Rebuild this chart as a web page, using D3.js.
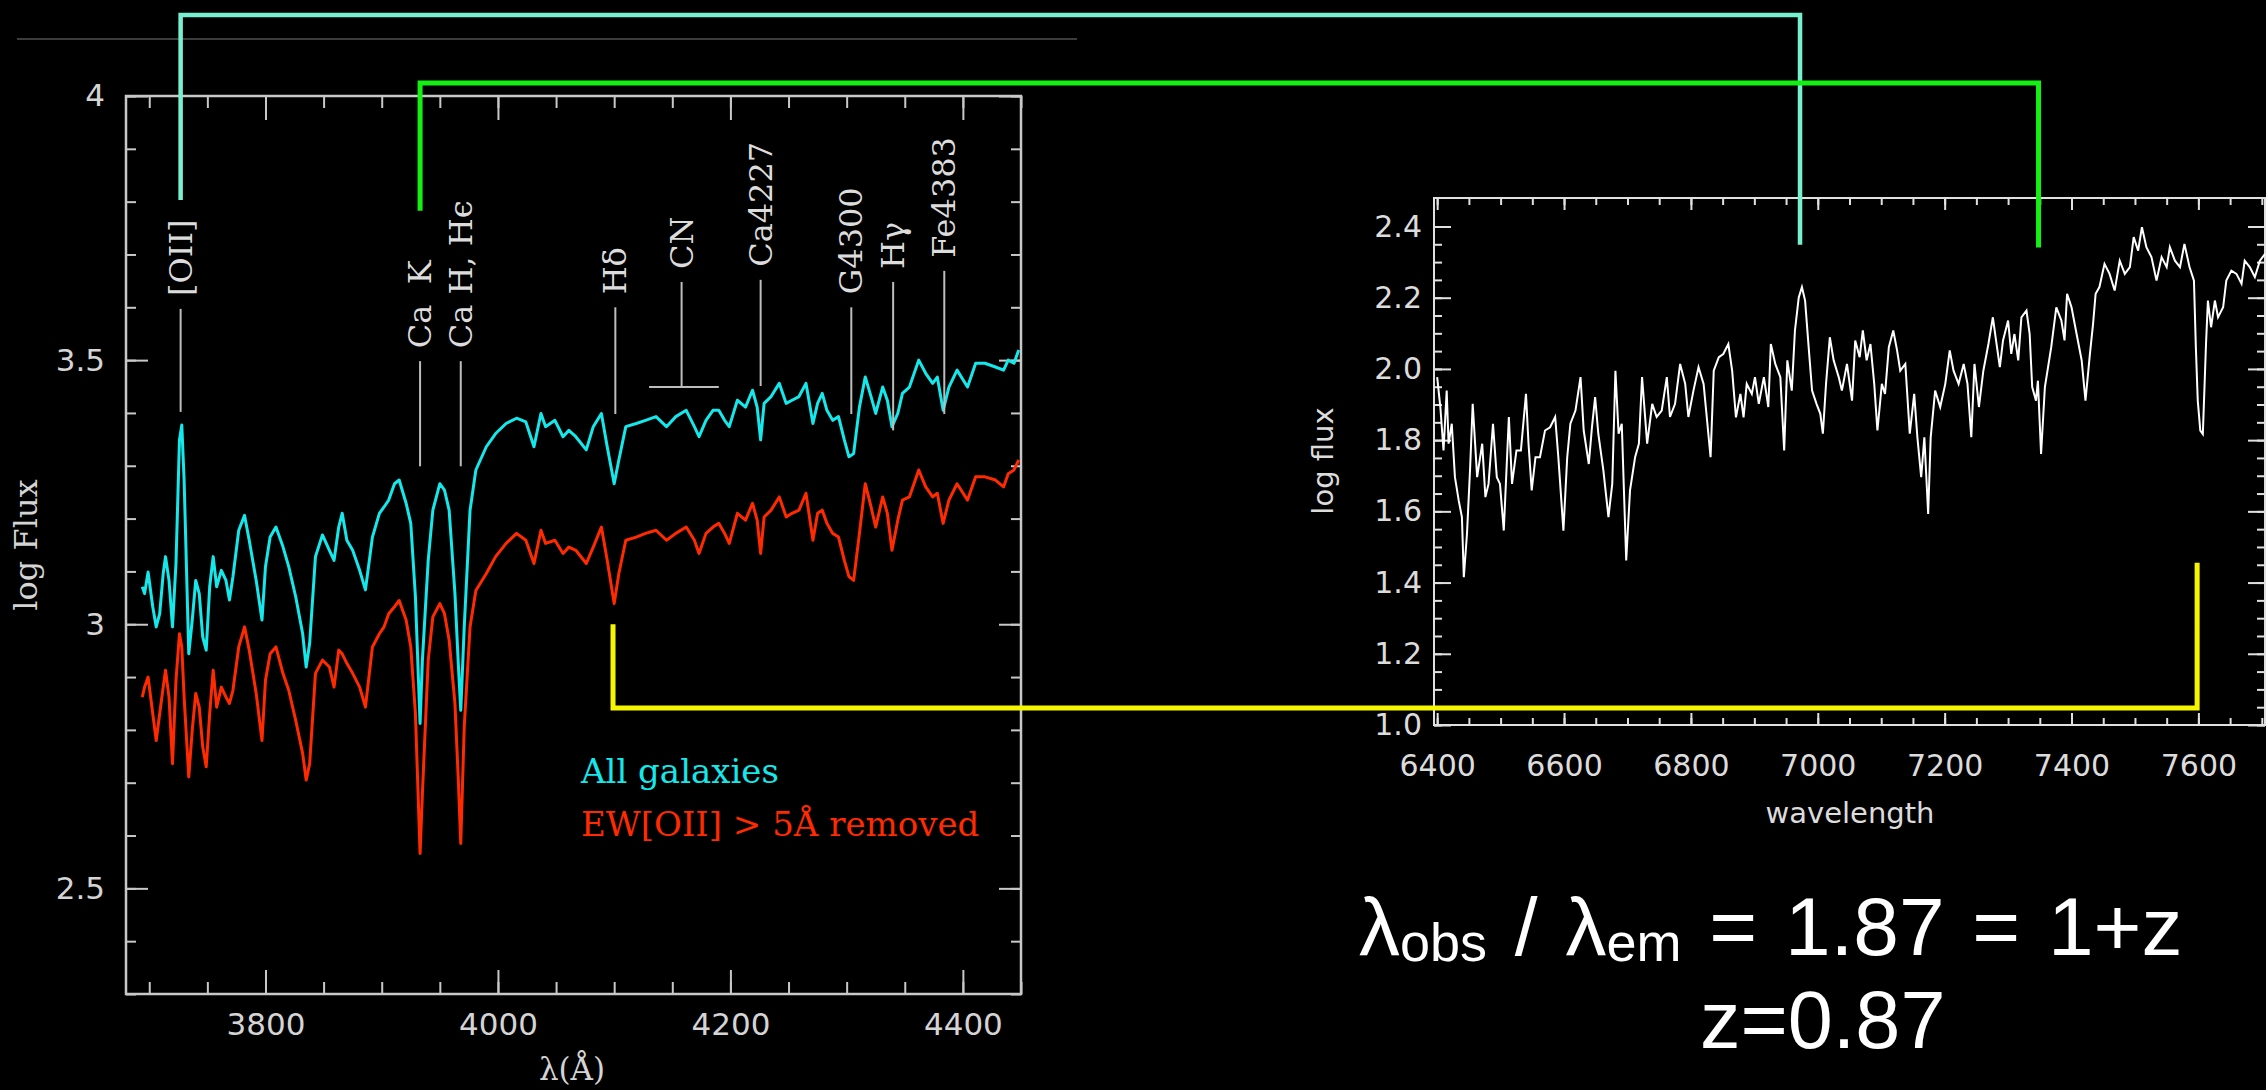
<!DOCTYPE html>
<html lang="en">
<head>
<meta charset="UTF-8">
<title>Redshift of a galaxy spectrum</title>
<script src="https://d3js.org/d3.v7.min.js"></script>
<style>
    body { margin: 0; background: #000; }
    svg { display: block; }
</style>
</head>
<body>
<svg width="2266" height="1090"></svg>
<script>
// ---- rest-frame composite spectra (left panel) ----
const restWave = [3694,3696,3699,3703,3706,3709,3712,3714,3717,3720,3723,3726,3728,3730,3734,3737,3740,3743,3746,3749,
    3752,3755,3758,3762,3766,3769,3772,3777,3782,3786,3792,3797,3800,3804,3809,3815,3820,3826,3832,3835,
    3838,3843,3849,3855,3859,3863,3866,3870,3875,3881,3886,3892,3898,3902,3906,3911,3915,3921,3925,3929,
    3933,3935,3940,3944,3950,3954,3958,3963,3966,3968,3971,3976,3981,3990,3998,4007,4016,4024,4031,4037,
    4041,4049,4056,4061,4067,4076,4082,4089,4094,4100,4104,4110,4119,4127,4136,4145,4153,4162,
    4169,4173,4179,4185,4190,4195,4199,4206,4213,4219,4223,4226,4229,4235,4242,4248,4253,4259,4265,4271,
    4275,4279,4283,4288,4293,4298,4302,4306,4311,4316,4321,4325,4331,4335,4339,4344,4348,4354,4362,4368,
    4374,4378,4383,4388,4395,4404,4411,4419,4428,4435,4439,4444,4448];
const allGalaxies = [3.071,3.058,3.099,3.033,2.995,3.020,3.096,3.128,3.083,2.995,3.115,3.349,3.377,3.273,2.944,3.008,3.083,3.058,2.976,2.951,
    3.071,3.128,3.071,3.102,3.083,3.046,3.090,3.178,3.206,3.159,3.083,3.008,3.109,3.165,3.184,3.147,3.109,3.052,2.982,2.919,
    2.964,3.128,3.169,3.140,3.121,3.184,3.210,3.159,3.140,3.102,3.065,3.165,3.210,3.222,3.235,3.266,3.273,3.229,3.191,3.052,
    2.812,2.932,3.121,3.216,3.266,3.254,3.216,3.058,2.920,2.837,2.995,3.216,3.292,3.336,3.361,3.380,3.390,3.383,3.336,3.399,
    3.374,3.386,3.355,3.367,3.355,3.330,3.374,3.399,3.336,3.266,3.311,3.374,3.380,3.386,3.393,3.374,3.393,3.405,
    3.374,3.355,3.386,3.405,3.405,3.386,3.374,3.424,3.411,3.443,3.411,3.349,3.418,3.431,3.456,3.418,3.424,3.431,3.456,3.380,
    3.418,3.437,3.405,3.386,3.393,3.349,3.317,3.323,3.411,3.468,3.431,3.399,3.449,3.424,3.374,3.399,3.437,3.449,3.500,3.475,
    3.456,3.468,3.405,3.449,3.481,3.449,3.494,3.494,3.487,3.481,3.500,3.494,3.519];
const oiiRemoved = [2.862,2.881,2.900,2.831,2.780,2.831,2.881,2.913,2.862,2.736,2.894,2.982,2.957,2.862,2.711,2.800,2.869,2.843,2.768,2.730,
    2.831,2.913,2.843,2.881,2.862,2.850,2.875,2.957,2.995,2.951,2.869,2.780,2.894,2.944,2.957,2.907,2.875,2.818,2.755,2.705,
    2.736,2.907,2.932,2.919,2.881,2.951,2.944,2.926,2.907,2.881,2.843,2.957,2.982,2.995,3.020,3.033,3.045,3.008,2.957,2.831,
    2.566,2.679,2.932,3.014,3.039,3.020,2.970,2.850,2.700,2.585,2.806,2.995,3.064,3.096,3.128,3.153,3.172,3.159,3.115,3.178,
    3.153,3.159,3.134,3.146,3.140,3.115,3.146,3.184,3.121,3.039,3.096,3.159,3.165,3.172,3.178,3.159,3.172,3.184,
    3.159,3.134,3.172,3.184,3.191,3.172,3.153,3.210,3.197,3.229,3.197,3.134,3.203,3.216,3.241,3.203,3.210,3.216,3.248,3.159,
    3.210,3.216,3.191,3.172,3.165,3.121,3.090,3.083,3.172,3.266,3.222,3.184,3.241,3.210,3.140,3.197,3.235,3.241,3.292,3.260,
    3.241,3.248,3.191,3.235,3.266,3.235,3.279,3.279,3.273,3.260,3.285,3.292,3.311];

// ---- observed spectrum (right panel) ----
const obsWave = [6400,6405,6410,6415,6418,6423,6428,6434,6439,6442,6447,6452,6456,6463,6471,6476,6481,6488,6494,6499,
    6505,6513,6518,6525,6532,6540,6544,6549,6555,6562,6570,6578,6586,6591,6599,6605,6610,6618,6626,6631,
    6639,6644,6649,6654,6662,6670,6676,6681,6686,6691,6698,6704,6712,6718,6723,6731,6739,6746,6754,6762,
    6767,6775,6783,6791,6796,6804,6812,6820,6831,6836,6844,
    6851,6859,6865,6871,6878,6883,6888,6896,6901,6907,6915,6922,6926,6933,6941,6947,6952,6959,6964,6970,
    6975,6980,6986,6991,6998,7004,7008,7013,7019,7025,7033,7038,7046,7054,7059,7066,7071,7077,7083,7089,
    7094,7101,7106,7112,7119,7125,7130,7138,7145,7152,7157,7163,7168,7174,7178,7185,7193,7201,7208,7214,
    7222,7230,7236,7242,7247,7254,7261,7269,
    7276,7281,7287,7292,7300,7305,7310,7316,7321,7329,7334,7338,7344,7347,7352,7358,7363,7368,7376,7384,
    7389,7393,7400,7408,7416,7422,7429,7434,7438,7444,7452,7460,7468,7476,7484,7492,7498,7505,7511,7518,
    7526,7534,7542,7550,7555,7563,7571,7578,7586,7593,7596,7599,7603,7607,7612,7615,7620,7626,7631,7639,
    7644,7652,7660,7668,7673,7681,7689,7697,7705];
const obsFlux = [1.977,1.893,1.771,1.939,1.790,1.846,1.696,1.630,1.584,1.415,1.537,1.724,1.902,1.696,1.790,1.640,1.677,1.846,1.696,1.677,
    1.546,1.865,1.677,1.771,1.771,1.930,1.790,1.659,1.752,1.752,1.827,1.836,1.865,1.752,1.546,1.752,1.846,1.883,1.977,1.827,
    1.733,1.836,1.921,1.818,1.715,1.584,1.677,1.995,1.818,1.846,1.462,1.659,1.752,1.790,1.977,1.790,1.902,1.865,1.883,1.977,
    1.865,1.902,2.014,1.958,1.865,1.939,2.005,1.958,1.752,1.995,2.033,
    2.042,2.070,1.995,1.864,1.930,1.864,1.958,1.930,1.977,1.902,1.977,1.893,2.070,2.014,1.977,1.771,2.024,1.939,2.108,2.201,
    2.230,2.192,2.052,1.939,1.902,1.874,1.818,1.958,2.089,2.024,1.977,1.939,2.014,1.911,2.080,2.033,2.108,2.024,2.070,1.958,
    1.827,1.958,1.930,2.061,2.108,2.052,1.995,2.014,1.818,1.930,1.808,1.696,1.808,1.593,1.808,1.939,1.893,1.958,2.052,1.995,
    1.958,2.014,1.958,1.808,2.014,1.893,1.995,2.070,
    2.145,2.080,2.005,2.080,2.136,2.042,2.098,2.024,2.145,2.164,2.098,1.949,1.911,1.967,1.761,1.949,2.005,2.061,2.173,2.136,
    2.080,2.211,2.173,2.098,2.024,1.911,2.042,2.127,2.211,2.230,2.295,2.267,2.220,2.304,2.267,2.286,2.370,2.332,2.398,2.342,
    2.314,2.248,2.314,2.286,2.342,2.304,2.286,2.351,2.286,2.248,2.061,1.911,1.827,1.817,2.070,2.192,2.117,2.192,2.145,2.173,
    2.248,2.276,2.267,2.239,2.304,2.286,2.258,2.304,2.323];

// ---- spectral feature marks (rest frame) ----
const featureNames = ["[OII]", "Ca\u00a0\u00a0K", "Ca H, H\u03f5", "H\u03b4", "CN", "Ca4227", "G4300", "H\u03b3", "Fe4383"];
const featureWave  = [3727, 3933, 3968, 4101, 4158, 4226, 4304, 4340, 4384];
const featureTop   = [3.597, 3.498, 3.498, 3.600, 3.648, 3.652, 3.600, 3.648, 3.669];
const featureBot   = [3.402, 3.299, 3.299, 3.398, 3.449, 3.451, 3.398, 3.367, 3.398];
const cnBand = [4130, 4190];

// ---- connectors: rest wavelength -> observed wavelength ----
const linkColors  = ["#78f0d0", "#14f014", "#f5f500"];
const linkRest    = [3727, 3933, 4099];
const linkObs     = [6972, 7348, 7598];
const linkRestEnd = [3.803, 3.783, 3.0];
const linkObsEnd  = [2.349, 2.341, 1.456];

// ---- tick labels ----
const leftXTicks = [3800, 4000, 4200, 4400];
const leftYTicks = [2.5, 3, 3.5, 4];
const rightXTicks = [6400, 6600, 6800, 7000, 7200, 7400, 7600];
const rightYTicks = [1.0, 1.2, 1.4, 1.6, 1.8, 2.0, 2.2, 2.4];

const svg = d3.select("svg");
svg.append("rect").attr("width", 2266).attr("height", 1090).attr("fill", "#000");

// thin grey rule at the top
svg.append("line").attr("x1", 17).attr("x2", 1077).attr("y1", 39).attr("y2", 39)
    .attr("stroke", "#3c3c3c").attr("stroke-width", 2);

// inward ticks on all four sides of a frame
function boxTicks(g, x, y, xVals, yVals, xLen, yLen, color) {
    const [x0, x1] = x.range();
    const [y0, y1] = y.range();
    const sets = [
        [d3.axisBottom(x).tickValues(xVals).tickSize(-xLen), `translate(0,${y0})`],
        [d3.axisTop(x).tickValues(xVals).tickSize(-xLen), `translate(0,${y1})`],
        [d3.axisLeft(y).tickValues(yVals).tickSize(-yLen), `translate(${x0},0)`],
        [d3.axisRight(y).tickValues(yVals).tickSize(-yLen), `translate(${x1},0)`]
    ];
    sets.forEach(([ax, tr]) => {
        const a = g.append("g").attr("transform", tr).call(ax.tickFormat(""));
        a.select(".domain").remove();
        a.selectAll("line").attr("stroke", color).attr("stroke-width", 2);
    });
}

function tickLabels(g, axis, tr, font, size, color) {
    const a = g.append("g").attr("transform", tr).call(axis);
    a.select(".domain").remove();
    a.selectAll("line").remove();
    a.selectAll("text").attr("font-family", font).attr("font-size", size).attr("fill", color);
    return a;
}

// ================= left panel =================
const xL = d3.scaleLinear().domain([3680, 4450]).range([126, 1021]);
const yL = d3.scaleLinear().domain([2.3, 4.0]).range([994, 96]);
const left = svg.append("g");
const frameCol = "#c8c8c8";

boxTicks(left, xL, yL, d3.range(3700, 4451, 50), d3.range(23, 41).map(d => d / 10), 12, 10, frameCol);
boxTicks(left, xL, yL, leftXTicks, leftYTicks, 24, 22, frameCol);
left.append("rect").attr("x", 126).attr("y", 96).attr("width", 895).attr("height", 898)
    .attr("fill", "none").attr("stroke", frameCol).attr("stroke-width", 2.5);

tickLabels(left, d3.axisBottom(xL).tickValues(leftXTicks).tickSize(0).tickPadding(19).tickFormat(d3.format("d")),
    "translate(0,994)", "DejaVu Sans", 31, "#d4d4d4");
tickLabels(left, d3.axisLeft(yL).tickValues(leftYTicks).tickSize(0).tickPadding(21).tickFormat(d => String(d)),
    "translate(126,0)", "DejaVu Sans", 31, "#d4d4d4");

left.append("text").attr("transform", "translate(37,545) rotate(-90)").attr("text-anchor", "middle")
    .attr("font-family", "DejaVu Serif").attr("font-size", 32).attr("fill", "#d4d4d4").text("log Flux");
left.append("text").attr("x", 572).attr("y", 1080).attr("text-anchor", "middle")
    .attr("font-family", "DejaVu Serif").attr("font-size", 31).attr("fill", "#d4d4d4").text("\u03bb(\u00c5)");

const lineL = d3.line().x(d => xL(d[0])).y(d => yL(d[1]));
left.append("path").datum(d3.zip(restWave, allGalaxies)).attr("d", lineL)
    .attr("fill", "none").attr("stroke", "#14e8ea").attr("stroke-width", 3).attr("stroke-linejoin", "round");
left.append("path").datum(d3.zip(restWave, oiiRemoved)).attr("d", lineL)
    .attr("fill", "none").attr("stroke", "#ff2a00").attr("stroke-width", 3).attr("stroke-linejoin", "round");

// feature marks
featureNames.forEach((name, i) => {
    const fx = xL(featureWave[i]);
    left.append("line").attr("x1", fx).attr("x2", fx)
        .attr("y1", yL(featureTop[i])).attr("y2", yL(featureBot[i]))
        .attr("stroke", "#bdbdbd").attr("stroke-width", 2);
    left.append("text")
        .attr("transform", `translate(${fx + 11},${yL(featureTop[i]) - 13}) rotate(-90)`)
        .attr("font-family", "DejaVu Serif").attr("font-size", 32).attr("fill", "#dcdcdc")
        .text(name);
});
left.append("line").attr("x1", xL(cnBand[0])).attr("x2", xL(cnBand[1]))
    .attr("y1", yL(featureBot[4])).attr("y2", yL(featureBot[4]))
    .attr("stroke", "#bdbdbd").attr("stroke-width", 2);

// legend
left.append("text").attr("x", 581).attr("y", 783).attr("font-family", "DejaVu Serif").attr("font-size", 34)
    .attr("fill", "#14e8ea").text("All galaxies");
left.append("text").attr("x", 581).attr("y", 836).attr("font-family", "DejaVu Serif").attr("font-size", 34)
    .attr("fill", "#ff2a00").text("EW[OII] > 5\u00c5 removed");

// ================= right panel =================
const xR = d3.scaleLinear().domain([6395, 7705]).range([1434, 2265]);
const yR = d3.scaleLinear().domain([1.0, 2.48]).range([725, 198]);
const right = svg.append("g");
const frameR = "#e0e0e0";

boxTicks(right, xR, yR, d3.range(6400, 7701, 50), d3.range(20, 49).map(d => d / 20), 7, 8, frameR);
boxTicks(right, xR, yR, rightXTicks, rightYTicks, 12, 17, frameR);
right.append("rect").attr("x", 1434).attr("y", 198).attr("width", 831).attr("height", 527)
    .attr("fill", "none").attr("stroke", frameR).attr("stroke-width", 2);

tickLabels(right, d3.axisBottom(xR).tickValues(rightXTicks).tickSize(0).tickPadding(30).tickFormat(d3.format("d")),
    "translate(0,725)", "DejaVu Sans", 30, "#dcdcdc");
tickLabels(right, d3.axisLeft(yR).tickValues(rightYTicks).tickSize(0).tickPadding(12).tickFormat(d3.format(".1f")),
    "translate(1434,0)", "DejaVu Sans", 30, "#dcdcdc");

right.append("text").attr("transform", "translate(1333,461) rotate(-90)").attr("text-anchor", "middle")
    .attr("font-family", "DejaVu Sans").attr("font-size", 29).attr("fill", "#dcdcdc").text("log flux");
right.append("text").attr("x", 1850).attr("y", 823).attr("text-anchor", "middle")
    .attr("font-family", "DejaVu Sans").attr("font-size", 29).attr("fill", "#dcdcdc").text("wavelength");

right.append("path").datum(d3.zip(obsWave, obsFlux))
    .attr("d", d3.line().x(d => xR(d[0])).y(d => yR(d[1])))
    .attr("fill", "none").attr("stroke", "#fff").attr("stroke-width", 2);

// ================= connectors =================
const railY = [15, 83, 708];
linkColors.forEach((c, i) => {
    const p = d3.path();
    p.moveTo(xL(linkRest[i]), yL(linkRestEnd[i]));
    p.lineTo(xL(linkRest[i]), railY[i]);
    p.lineTo(xR(linkObs[i]), railY[i]);
    p.lineTo(xR(linkObs[i]), yR(linkObsEnd[i]));
    svg.append("path").attr("d", p.toString()).attr("fill", "none")
        .attr("stroke", c).attr("stroke-width", i === 0 ? 4.5 : 5);
});

// ================= redshift text =================
const eq = svg.append("text").attr("x", 1359).attr("y", 955).attr("word-spacing", 5)
    .attr("font-family", "Liberation Sans, Arial, sans-serif").attr("font-size", 82).attr("fill", "#fff");
eq.append("tspan").text("\u03bb");
eq.append("tspan").attr("font-size", 54).attr("dy", 6).text("obs");
eq.append("tspan").attr("dy", -6).text(" / \u03bb");
eq.append("tspan").attr("font-size", 54).attr("dy", 6).text("em");
eq.append("tspan").attr("dy", -6).text(" = 1.87 = 1+z");

svg.append("text").attr("x", 1700).attr("y", 1048)
    .attr("font-family", "Liberation Sans, Arial, sans-serif").attr("font-size", 81).attr("fill", "#fff")
    .text("z=0.87");
</script>
</body>
</html>
